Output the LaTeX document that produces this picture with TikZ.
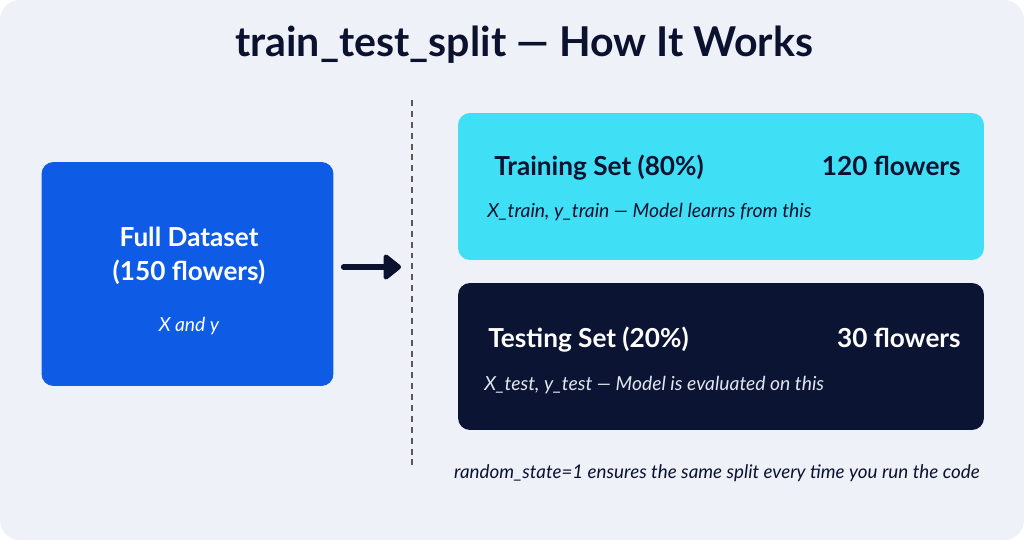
\documentclass[tikz,border=0pt]{standalone}
\usepackage{fontspec}
\setmainfont{Lato}
\usetikzlibrary{arrows.meta, positioning, calc}
\definecolor{pagebg}{HTML}{EEF1F7}
\definecolor{fullblue}{HTML}{0E5CE6}
\definecolor{traincyan}{HTML}{3FE0F5}
\definecolor{testnavy}{HTML}{0B1433}
\definecolor{inknavy}{HTML}{0B1230}
\definecolor{softwhite}{HTML}{E2E6F0}
\tikzset{
    base/.style={rectangle, rounded corners=0.24cm, align=center, inner sep=0pt},
    fullbox/.style={base, minimum width=5.84cm, minimum height=4.48cm, fill=fullblue},
    setbox/.style={base, minimum width=10.52cm, minimum height=2.94cm},
    headline/.style={font=\fontsize{23.4}{28}\selectfont\bfseries, text=inknavy, inner sep=0pt},
    heading/.style={font=\fontsize{14.9}{18}\selectfont\bfseries, inner sep=0pt},
    note/.style={font=\fontsize{11}{13}\selectfont\itshape, inner sep=0pt},
    arrow/.style={-{Triangle[round, length=0.38cm, width=0.58cm]}, line width=3.4pt, draw=inknavy, fill=inknavy, line cap=round},
    divider/.style={dashed, dash pattern=on 3.4pt off 2.8pt, line width=0.7pt, draw=black!65}
}

\begin{document}
\begin{tikzpicture}[x=0.02cm, y=-0.02cm]
    \useasboundingbox (0,0) rectangle (1024,540);
    \fill[white] (0,0) rectangle (1024,540);
    \fill[pagebg, rounded corners=0.4cm] (0,0) rectangle (1024,540);

    \node (title) [headline, anchor=base] at (524,57) {train\_test\_split — How It Works};

    \node (full) [fullbox] at (187.5,274) {};
    \node (fulltitle) [heading, text=white, anchor=base] at (189,247) {Full Dataset};
    \node (fullcount) [heading, text=white, anchor=base] at (189,281) {(150 flowers)};
    \node (fullnote) [note, text=white, anchor=base] at (189,332) {X and y};

    \node (train) [setbox, fill=traincyan] at (721,186.5) {};
    \node (traintitle) [heading, text=inknavy, anchor=base west] at (494,176) {Training Set (80\%)};
    \node (traincount) [heading, text=inknavy, anchor=base east] at (961,176) {120 flowers};
    \node (trainnote) [note, text=inknavy, anchor=base west] at (487,218) {X\_train, y\_train — Model learns from this};

    \node (test) [setbox, fill=testnavy] at (721,356.5) {};
    \node (testtitle) [heading, text=white, anchor=base west] at (488,348) {Testing Set (20\%)};
    \node (testcount) [heading, text=white, anchor=base east] at (961,348) {30 flowers};
    \node (testnote) [note, text=softwhite, anchor=base west] at (484,391) {X\_test, y\_test — Model is evaluated on this};

    \node (seednote) [note, font=\fontsize{10.7}{13}\selectfont\itshape, text=inknavy, anchor=base east] at (980,478) {random\_state=1 ensures the same split every time you run the code};

    \coordinate (split) at (412,267);
    \coordinate (divtop) at (412,100);
    \coordinate (divbot) at (412,470);
    \draw [divider] (divtop) -- (divbot);
    \draw [arrow, shorten <=0.2cm, shorten >=0.22cm] (full.east |- split) -- (split);
\end{tikzpicture}
\end{document}
